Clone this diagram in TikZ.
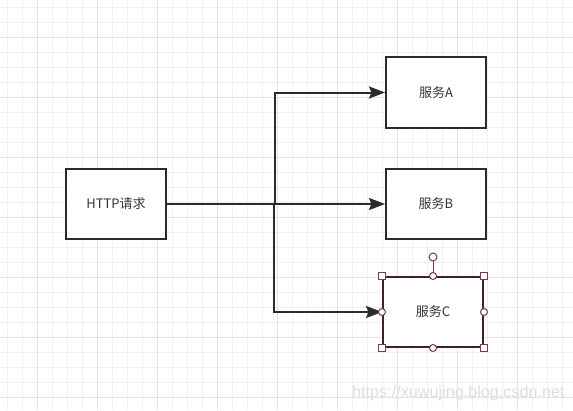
\documentclass[tikz,border=0pt]{standalone}
\usepackage{fontspec}
\setmainfont{Noto Sans CJK SC}
\newfontfamily\wmfont{Liberation Sans}
\usetikzlibrary{arrows.meta}
\definecolor{linec}{HTML}{2B2B2B}
\definecolor{minorc}{HTML}{F0F0F0}
\definecolor{majorc}{HTML}{E2E2E2}
\definecolor{selc}{HTML}{3D2228}
\definecolor{handc}{HTML}{7A3A4A}
\definecolor{wmc}{HTML}{DEDEDE}
\tikzset{
  box/.style={draw=linec, line width=2pt, fill=white, minimum width=100pt, minimum height=70pt, inner sep=0pt, font=\fontsize{13}{15}\selectfont, text=black!80},
  conn/.style={draw=linec, line width=2pt, -{Stealth[length=16pt,width=12pt,inset=2.5pt]}},
  minorline/.style={draw=minorc, line width=1pt},
  majorline/.style={draw=majorc, line width=1pt},
  sqhandle/.style={draw=handc, fill=white, line width=1pt, minimum size=7pt, inner sep=0pt, rectangle},
  cihandle/.style={draw=handc, fill=white, line width=1pt, minimum size=7pt, inner sep=0pt, circle},
}
\begin{document}
\begin{tikzpicture}[x=1pt,y=-1pt]
\useasboundingbox (0,0) rectangle (573,410);
\fill[white] (0,0) rectangle (573,410);
\foreach \v in {7,22,...,572} {\draw[minorline] (\v,0) -- (\v,410);}
\foreach \v in {7,22,...,410} {\draw[minorline] (0,\v) -- (573,\v);}
\foreach \v in {37,97,...,572} {\draw[majorline] (\v,0) -- (\v,410);}
\foreach \v in {37,97,...,410} {\draw[majorline] (0,\v) -- (573,\v);}

\node[text=wmc, font=\wmfont\fontsize{16.2}{18}\selectfont, anchor=base west, inner sep=0pt] (wm) at (352,397) {https://xuwujing.blog.csdn.net};

\node[box] (http) at (116,204) {HTTP请求};
\node[box, minimum height=71pt] (a) at (436,92.5) {服务A};
\node[box] (b) at (436,204) {服务B};
\node[box, draw=selc] (c) at (433,312) {服务C};

\coordinate (j1) at (275,204);
\coordinate (j2) at (274,204);
\draw[conn] (http.east) -- (b.west);
\draw[conn] (j1) |- (a.west);
\draw[conn] (j2) |- (c.west);

% selection handles
\coordinate (rot) at (433,257);
\draw[handc, line width=1pt] (c.north) -- (rot);
\node[cihandle, minimum size=8pt] (rh) at (rot) {};
\foreach \p in {north west,north east,south west,south east} {\node[sqhandle] at (c.\p) {};}
\foreach \p in {north,south,east,west} {\node[cihandle] at (c.\p) {};}
\end{tikzpicture}
\end{document}
